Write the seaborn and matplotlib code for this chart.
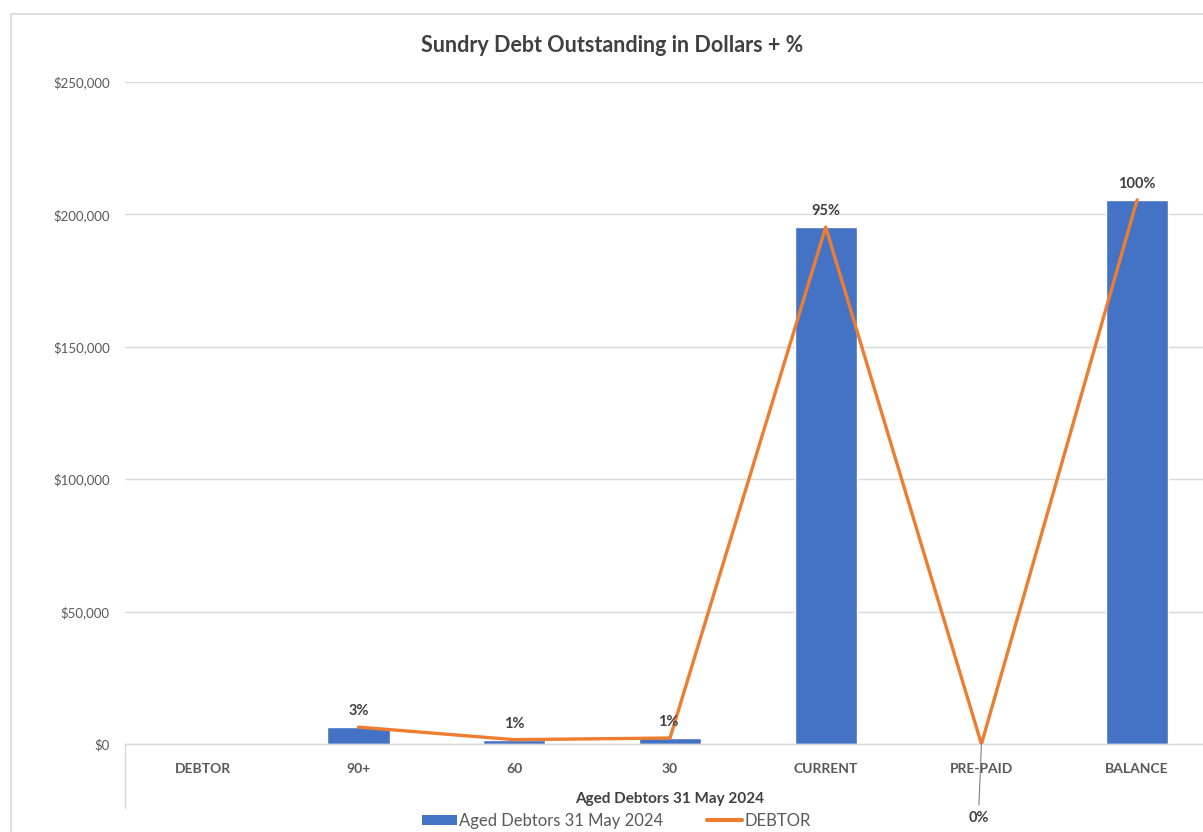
import numpy as np
import pandas as pd
import matplotlib
matplotlib.use("Agg")
import matplotlib.pyplot as plt
from matplotlib.patches import Rectangle, Patch
from matplotlib.lines import Line2D
import seaborn as sns

# Aged debtor buckets
categories = ["DEBTOR", "90+", "60", "30", "CURRENT", "PRE-PAID", "BALANCE"]
amounts = [np.nan, 6400, 1600, 2200, 195300, 0, 205500]          # dollars
debtor_share = [np.nan, 0.031, 0.008, 0.011, 0.950, 0.0, 1.0]   # share of balance
share_labels = ["", "3%", "1%", "1%", "95%", "0%", "100%"]
y_ticks = [0, 50000, 100000, 150000, 200000, 250000]

BAR_NAME = "Aged Debtors 31 May 2024"
LINE_NAME = "DEBTOR"
BLUE = "#4472C4"
ORANGE = "#ED7D31"
TEXT_DARK = "#404040"
TEXT_GREY = "#595959"
GRID = "#D9D9D9"

sns.set_theme(style="white")
plt.rcParams["font.family"] = ["Lato", "DejaVu Sans"]

df = pd.DataFrame({"category": categories, "amount": amounts})

fig = plt.figure(figsize=(12.03, 8.32), dpi=100)
W, H = 1203, 832
ax = fig.add_axes([125 / W, (H - 744) / H, (1215 - 125) / W, (744 - 82) / H])

sns.barplot(data=df, x="category", y="amount", order=categories, color=BLUE,
            width=0.4, saturation=1, ax=ax, zorder=2)

ax.set_xlim(-0.5, len(categories) - 0.5)
ax.set_ylim(y_ticks[0], y_ticks[-1])
ax.set_yticks(y_ticks)
ax.set_yticklabels([f"${v:,.0f}" for v in y_ticks], fontsize=9.5, color=TEXT_GREY)
ax.set_xticks(range(len(categories)))
ax.set_xticklabels(categories, fontsize=10, fontweight="bold", color=TEXT_GREY)
ax.tick_params(axis="both", length=0)
ax.tick_params(axis="y", pad=11)
ax.tick_params(axis="x", pad=14)
ax.yaxis.grid(True, color=GRID, lw=1)
ax.set_axisbelow(True)
for side in ["left", "right", "top"]:
    ax.spines[side].set_visible(False)
ax.spines["bottom"].set_color(GRID)
ax.spines["bottom"].set_linewidth(1)
ax.set_ylabel("")
ax.set_xlabel(BAR_NAME, fontsize=11, fontweight="bold", color=TEXT_DARK)
ax.xaxis.set_label_coords((670 - 125) / (1215 - 125), -(799 - 744) / (744 - 82))
ax.xaxis.label.set_va("center")

# short divider under the category axis on the left
ax.plot([0, 0], [0, -64 / (744 - 82)], transform=ax.transAxes, color=GRID,
        lw=1, clip_on=False)

# Debtor share line on a secondary scale, 100% aligned with the balance bar
ax2 = ax.twinx()
ax2.set_ylim(0, y_ticks[-1] / amounts[-1])
ax2.set_axis_off()
pos = np.arange(len(categories))
sns.lineplot(x=pos, y=debtor_share, color=ORANGE, lw=2.4, sort=False, ax=ax2,
             zorder=3)
ax2.set_xlim(ax.get_xlim())

for i, (v, lab) in enumerate(zip(debtor_share, share_labels)):
    if np.isnan(v) or lab == "":
        continue
    if v == 0:
        ax2.annotate(lab, xy=(i, v), xytext=(-3, -74), textcoords="offset pixels",
                     ha="center", va="center", fontsize=10.5, fontweight="bold",
                     color=TEXT_DARK, annotation_clip=False,
                     arrowprops=dict(arrowstyle="-", color="#7F7F7F", lw=0.8,
                                     shrinkA=2, shrinkB=0))
    else:
        dx = -2 if lab == "1%" and i == 3 else 0
        ax2.annotate(lab, xy=(i, v), xytext=(dx, 16), textcoords="offset pixels",
                     ha="center", va="center", fontsize=10.5, fontweight="bold",
                     color=TEXT_DARK, annotation_clip=False)

fig.text(612 / W, 1 - 45 / H, "Sundry Debt Outstanding in Dollars + %",
         ha="center", va="center", fontsize=15.5, fontweight="bold", color=TEXT_DARK)

handles = [Patch(facecolor=BLUE, edgecolor="none"),
           Line2D([0], [0], color=ORANGE, lw=3)]
fig.legend(handles, [BAR_NAME, LINE_NAME], loc="center", ncol=2,
           bbox_to_anchor=(616 / W, 1 - 821 / H), frameon=False, fontsize=12,
           labelcolor=TEXT_GREY, handlelength=2.1, handleheight=0.6,
           handletextpad=0.15, columnspacing=2.6, borderpad=0)

# chart area border
fig.patches.append(Rectangle((11 / W, -0.1), 1.2, 1 - 14 / H + 0.1,
                             transform=fig.transFigure, fill=False,
                             edgecolor=GRID, lw=1.2))

fig.savefig("out.png", dpi=100, facecolor="white")
